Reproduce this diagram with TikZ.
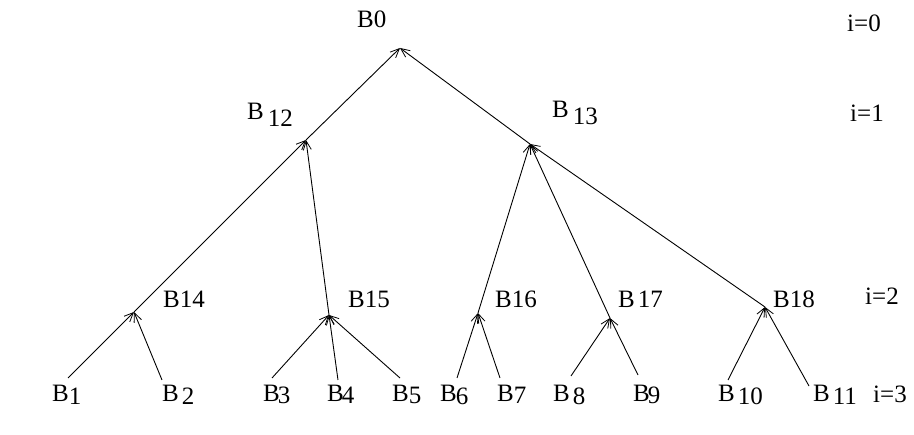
\documentclass[tikz,border=0pt]{standalone}
\usepackage{fontspec}
\setmainfont{Liberation Serif}
\usetikzlibrary{arrows.meta}
% B with a (possibly lowered) index: kern, drop, index
\newcommand\bsub[3]{B\kern#1pt\raisebox{-#2pt}{#3}}
\begin{document}
\begin{tikzpicture}[x=1pt,y=-1pt,
  edge/.style={draw=black,line width=0.9pt,-{Straight Barb[length=9pt,width=8pt,line width=0.8pt]}},
  lab/.style={anchor=base west,inner sep=0pt,font=\fontsize{25}{28}\selectfont}]
\useasboundingbox[fill=white] (0,0) rectangle (914,435);

% branch points
\coordinate (p0)  at (400,48);
\coordinate (p12) at (306,140);
\coordinate (p13) at (530,144);
\coordinate (p14) at (134,312);
\coordinate (p15) at (329,315);
\coordinate (p16) at (478,313);
\coordinate (p17) at (610,318);
\coordinate (p18) at (765,307);
% leaf ends
\coordinate (l1)  at (68,378);
\coordinate (l2)  at (162,380);
\coordinate (l3)  at (272,378);
\coordinate (l4)  at (338,380);
\coordinate (l5)  at (400,378);
\coordinate (l6)  at (457,378);
\coordinate (l7)  at (500,378);
\coordinate (l8)  at (571,376);
\coordinate (l9)  at (638,375);
\coordinate (l10) at (728,380);
\coordinate (l11) at (809,386);

% labels
\node[lab] (t0)  at (357,28)  {B0};
\node[lab] (t12) at (247,120) {\bsub{4}{7}{12}};
\node[lab] (t13) at (552,118) {\bsub{4}{7}{13}};
\node[lab] (t14) at (163,308) {B14};
\node[lab] (t15) at (348,308) {B15};
\node[lab] (t16) at (495,308) {B16};
\node[lab] (t17) at (618,308) {\bsub{3}{0}{17}};
\node[lab] (t18) at (773,308) {B18};
\node[lab] (t1)  at (52,402)  {\bsub{0}{3}{1}};
\node[lab] (t2)  at (162,402) {\bsub{3}{3}{2}};
\node[lab] (t3)  at (263,402) {\bsub{-2}{2}{3}};
\node[lab] (t4)  at (327,402) {\bsub{-2}{2}{4}};
\node[lab] (t5)  at (392,402) {\bsub{0}{2}{5}};
\node[lab] (t6)  at (440,402) {\bsub{-1}{3}{6}};
\node[lab] (t7)  at (497,402) {\bsub{0}{2}{7}};
\node[lab] (t8)  at (553,402) {\bsub{3}{3}{8}};
\node[lab] (t9)  at (633,402) {\bsub{-2}{2}{9}};
\node[lab] (t10) at (718,402) {\bsub{3}{3}{10}};
\node[lab] (t11) at (813,402) {\bsub{3}{3}{11}};
\node[lab] (i0)  at (847,32)  {i=0};
\node[lab] (i1)  at (850,122) {i=1};
\node[lab] (i2)  at (865,305) {i=2};
\node[lab] (i3)  at (873,403) {i=3};

% connectors, each pointing to its parent
\draw[edge] (p12) -- (p0);
\draw[edge] (p13) -- (p0);
\draw[edge] (p14) -- (p12);
\draw[edge] (p15) -- (p12);
\draw[edge] (p16) -- (p13);
\draw[edge] (p17) -- (p13);
\draw[edge] (p18) -- (p13);
\draw[edge] (l1) -- (p14);
\draw[edge] (l2) -- (p14);
\draw[edge] (l3) -- (p15);
\draw[edge] (l4) -- (p15);
\draw[edge] (l5) -- (p15);
\draw[edge] (l6) -- (p16);
\draw[edge] (l7) -- (p16);
\draw[edge] (l8) -- (p17);
\draw[edge] (l9) -- (p17);
\draw[edge] (l10) -- (p18);
\draw[edge] (l11) -- (p18);
\end{tikzpicture}
\end{document}
